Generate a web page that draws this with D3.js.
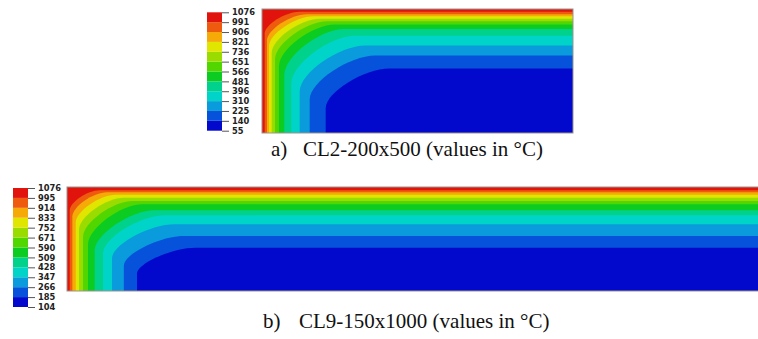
<!DOCTYPE html>
<html>
<head>
<meta charset="utf-8">
<script src="https://cdn.jsdelivr.net/npm/d3@7/dist/d3.min.js"></script>
<style>
  html, body { margin: 0; padding: 0; background: #fff; }
  svg { display: block; }
</style>
</head>
<body>
<svg id="chart" width="758" height="339"></svg>
<script>
// Legend levels (°C), coldest to hottest
const levelsA = [55, 140, 225, 310, 396, 481, 566, 651, 736, 821, 906, 991, 1076];
const levelsB = [104, 185, 266, 347, 428, 509, 590, 671, 752, 833, 914, 995, 1076];

// Band colours, coldest to hottest
const bandColors = ["#0209CC", "#0652DA", "#0A9BDC", "#00D4C8", "#00D28C", "#0CCC22",
                    "#52D600", "#9ADC00", "#E0E600", "#F5AA08", "#EE5A0E", "#E0140C"];

// Section sizes (mm): width x height
const sectionA = [500, 200];
const sectionB = [1000, 150];

// Isotherm positions (mm), hottest boundary (991 / 995) to coldest (140 / 185)
// depth below the heated top face, away from the corner
const topDepthA  = [4.3, 8.5, 11.7, 15.6, 19.8, 25.2, 32.2, 43, 59, 75, 96];
// depth from the heated side face, near the bottom
const sideDepthA = [4.3, 8, 11.3, 15.6, 20.9, 27.3, 35.9, 47.1, 60.6, 76.7, 102.4];
// extent of the rounded corner along x and along y
const cornerXA   = [56, 64, 71, 77, 84, 90, 96, 103, 106, 106, 103];
const cornerYA   = [35, 42, 48, 55, 61, 67, 74, 77, 74, 71, 64];

const topDepthB  = [4.8, 7.7, 11.1, 15.4, 20.2, 25, 33.7, 40.9, 53.8, 70.7, 87.6];
const sideDepthB = [3.9, 7.7, 12.6, 17.3, 23.1, 30.3, 40, 52, 65, 82, 101];
const cornerXB   = [43, 50, 58, 65, 72, 79, 87, 90, 90, 87, 85];
const cornerYB   = [29, 35, 40, 46, 52, 58, 58, 55, 49, 43, 37.5];

const svg = d3.select("#chart");

function drawPanel(cfg) {
  const [W, H] = cfg.section;
  const x = d3.scaleLinear().domain([0, W]).range([cfg.x0, cfg.x1]);
  const y = d3.scaleLinear().domain([0, H]).range([cfg.y0, cfg.y1]);
  const g = svg.append("g");
  const clipId = "clip-" + cfg.id;
  g.append("clipPath").attr("id", clipId)
    .append("rect")
    .attr("x", x(0)).attr("y", y(0))
    .attr("width", x(W) - x(0)).attr("height", y(H) - y(0));
  const field = g.append("g").attr("clip-path", `url(#${clipId})`);

  // hottest band fills the whole section
  field.append("rect")
    .attr("x", x(0)).attr("y", y(0))
    .attr("width", x(W) - x(0)).attr("height", y(H) - y(0))
    .attr("fill", bandColors[bandColors.length - 1]);

  // each isotherm bounds the colder region lying below and to the right of it
  const k = 0.4;
  const iso = cfg.top.map((t, i) => ({
    t, s: cfg.side[i], rx: cfg.cx[i], ry: cfg.cy[i],
    color: bandColors[bandColors.length - 2 - i]
  }));
  field.selectAll("path.band").data(iso).join("path")
    .attr("class", "band")
    .attr("fill", d => d.color)
    .attr("d", d => {
      const p = d3.path();
      p.moveTo(x(d.s), y(H) + 2);
      p.lineTo(x(d.s), y(d.t + d.ry));
      p.bezierCurveTo(x(d.s), y(d.t + d.ry * (1 - k)),
                      x(d.s + d.rx * (1 - k)), y(d.t),
                      x(d.s + d.rx), y(d.t));
      p.lineTo(x(W) + 2, y(d.t));
      p.lineTo(x(W) + 2, y(H) + 2);
      p.closePath();
      return p.toString();
    });

  // outline of the section
  g.append("rect")
    .attr("x", x(0)).attr("y", y(0))
    .attr("width", x(W) - x(0)).attr("height", y(H) - y(0))
    .attr("fill", "none").attr("stroke", "#9a9490").attr("stroke-width", 1);

  // legend
  const lv = cfg.levels;
  const ly = d3.scaleLinear().domain([0, lv.length - 1]).range([cfg.legBottom, cfg.legTop]);
  const leg = g.append("g");
  leg.selectAll("rect").data(bandColors).join("rect")
    .attr("x", cfg.legX).attr("width", cfg.legW)
    .attr("y", (d, i) => ly(i + 1))
    .attr("height", (d, i) => ly(i) - ly(i + 1))
    .attr("fill", d => d);
  const axis = d3.axisRight(ly)
    .tickValues(d3.range(lv.length))
    .tickFormat(i => lv[i])
    .tickSize(7).tickPadding(3);
  const ax = leg.append("g")
    .attr("transform", `translate(${cfg.legX + cfg.legW},0)`)
    .call(axis);
  ax.select(".domain").remove();
  ax.selectAll(".tick line").attr("stroke", "#555");
  ax.selectAll(".tick text")
    .attr("fill", "#222")
    .style("font-family", "'DejaVu Sans', Verdana, sans-serif")
    .style("font-size", "8.3px")
    .style("font-weight", "bold");

  // caption
  const cap = g.append("text")
    .attr("y", cfg.capY)
    .style("font-family", "'Liberation Serif', 'Times New Roman', serif")
    .style("font-size", "21px")
    .attr("fill", "#111");
  cap.append("tspan").attr("x", cfg.capX1).text(cfg.tag);
  cap.append("tspan").attr("x", cfg.capX2).text(cfg.caption);
}

drawPanel({
  id: "a", section: sectionA, x0: 262, x1: 573, y0: 9, y1: 133,
  top: topDepthA, side: sideDepthA, cx: cornerXA, cy: cornerYA,
  levels: levelsA, legX: 207, legW: 15, legTop: 12.3, legBottom: 130.7,
  tag: "a)", caption: "CL2-200x500 (values in °C)", capX1: 271, capX2: 303, capY: 156
});

drawPanel({
  id: "b", section: sectionB, x0: 67, x1: 760, y0: 187, y1: 291,
  top: topDepthB, side: sideDepthB, cx: cornerXB, cy: cornerYB,
  levels: levelsB, legX: 13, legW: 15, legTop: 188, legBottom: 307,
  tag: "b)", caption: "CL9-150x1000 (values in °C)", capX1: 263, capX2: 299, capY: 328
});
</script>
</body>
</html>
